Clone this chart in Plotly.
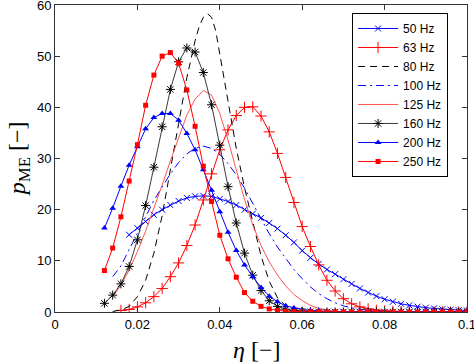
import plotly.graph_objects as go

# ---------------- data ----------------
STEP = 0.002

x_start_50 = 0.018
p_50 = [15.1, 16.4, 17.7, 19.0, 20.0, 20.9, 21.7, 22.3, 22.6, 22.7, 22.6, 22.1,
        21.6, 20.9, 20.0, 19.2, 18.4, 17.4, 16.3, 15.0, 13.6, 12.0, 10.6, 9.4,
        8.3, 7.4, 6.4, 5.5, 4.6, 3.8, 3.1, 2.5, 2.0, 1.6, 1.3, 1.05, 0.85, 0.7,
        0.55, 0.45, 0.35, 0.3]

x_start_63 = 0.016
p_63 = [0.3, 0.5, 1.0, 1.8, 3.0, 4.6, 6.9, 9.6, 13.0, 17.0, 21.9, 27.0, 31.7,
        35.6, 38.4, 40.0, 40.1, 38.3, 35.2, 31.0, 26.3, 21.4, 16.7, 12.8, 9.2,
        6.2, 4.1, 2.6, 1.6, 1.0, 0.6, 0.35, 0.2, 0.12, 0.07, 0.04, 0.02, 0.01,
        0, 0, 0, 0, 0]

eta_80 = [0.014, 0.016, 0.018, 0.020, 0.022, 0.024, 0.026, 0.028, 0.030, 0.032,
          0.034, 0.035, 0.036, 0.037, 0.038, 0.039, 0.040, 0.041, 0.042, 0.044,
          0.046, 0.048, 0.050, 0.052, 0.054, 0.056, 0.058, 0.060, 0.065, 0.070,
          0.100]
p_80 = [0.1, 0.4, 1.1, 3.0, 6.2, 11.5, 18.8, 27.5, 36.8, 45.8,
        53.0, 55.8, 57.6, 58.3, 57.6, 55.0, 50.5, 45.5, 40.8, 32.0,
        24.3, 17.5, 11.0, 6.0, 2.8, 1.2, 0.5, 0.2, 0.03, 0.0,
        0.0]

x_start_100 = 0.014
p_100 = [6.9, 9.0, 12.2, 15.5, 18.8, 21.8, 24.4, 27.0, 29.2, 30.9, 32.0, 32.4,
         32.0, 30.8, 29.0, 26.8, 24.2, 21.2, 18.2, 15.3, 12.7, 10.4, 8.3, 6.5,
         4.9, 3.6, 2.6, 1.8, 1.2, 0.8, 0.5, 0.3, 0.2, 0.1,
         0, 0, 0, 0, 0, 0, 0, 0, 0, 0]

x_start_125 = 0.014
p_125 = [3.0, 5.2, 8.2, 11.8, 15.8, 20.2, 24.8, 29.5, 34.2, 38.5, 41.6, 43.3,
         42.4, 38.8, 33.6, 27.8, 22.0, 17.0, 13.0, 9.8, 7.2, 5.1, 3.4, 2.2,
         1.3, 0.7, 0.35, 0.15, 0.05,
         0, 0, 0, 0, 0, 0, 0, 0, 0, 0, 0, 0, 0, 0, 0, 0]

x_start_160 = 0.012
p_160 = [1.7, 3.3, 5.5, 8.9, 14.1, 20.8, 28.3, 36.2, 43.5, 48.9, 51.6, 50.8,
         46.8, 40.5, 32.6, 24.5, 17.4, 11.5, 7.2, 4.2, 2.2, 1.1, 0.55, 0.25,
         0.12, 0.06, 0.03, 0.01,
         0, 0, 0, 0, 0, 0, 0, 0, 0, 0, 0, 0, 0, 0, 0, 0, 0]

x_start_200 = 0.012
p_200 = [16.4, 20.3, 24.6, 28.7, 32.3, 35.8, 38.0, 38.8, 38.8, 37.5, 34.9, 31.7,
         27.8, 23.8, 19.6, 15.6, 12.0, 9.2, 6.9, 4.8, 3.1, 2.0, 1.2, 0.8, 0.5,
         0.3, 0.2, 0.12, 0.08, 0.05, 0.03, 0.02, 0.01,
         0, 0, 0, 0, 0, 0, 0, 0, 0, 0, 0, 0]

x_start_250 = 0.012
p_250 = [8.1, 12.5, 18.6, 25.6, 32.7, 40.4, 46.3, 50.0, 50.7, 48.6, 43.4, 36.3,
         28.5, 21.6, 15.0, 10.4, 6.8, 3.8, 2.1, 1.1, 0.6, 0.3, 0.15, 0.08, 0.05,
         0.03, 0.02, 0.01, 0.01,
         0, 0, 0, 0, 0, 0, 0, 0, 0, 0, 0, 0, 0, 0, 0, 0]

x_ticks = [0, 0.02, 0.04, 0.06, 0.08, 0.1]
x_tick_labels = ["0", "0.02", "0.04", "0.06", "0.08", "0.1"]
y_ticks = [0, 10, 20, 30, 40, 50, 60]
y_tick_labels = ["0", "10", "20", "30", "40", "50", "60"]

x_title = "<i>η</i> [−]"
y_title = "<i>p</i><sub>ME</sub> [−]"


def grid(start, vals):
    return [round(start + STEP * i, 4) for i in range(len(vals))]


BLUE = "#0000ff"
RED = "#ff0000"
BLACK = "#000000"

fig = go.Figure()

fig.add_trace(go.Scatter(
    x=grid(x_start_50, p_50), y=p_50, name="50 Hz", mode="lines+markers",
    line=dict(color=BLUE, width=1),
    marker=dict(symbol="x-thin", size=6, color=BLUE, line=dict(width=1, color=BLUE))))

fig.add_trace(go.Scatter(
    x=grid(x_start_63, p_63), y=p_63, name="63 Hz", mode="lines+markers",
    line=dict(color=RED, width=1),
    marker=dict(symbol="cross-thin", size=8, color=RED, line=dict(width=1, color=RED))))

fig.add_trace(go.Scatter(
    x=eta_80, y=p_80, name="80 Hz", mode="lines",
    line=dict(color=BLACK, width=1, dash="7px,5px")))

fig.add_trace(go.Scatter(
    x=grid(x_start_100, p_100), y=p_100, name="100 Hz", mode="lines",
    line=dict(color=BLUE, width=1, dash="8px,4px,2px,4px")))

fig.add_trace(go.Scatter(
    x=grid(x_start_125, p_125), y=p_125, name="125 Hz", mode="lines",
    line=dict(color="#ff4040", width=0.9)))

fig.add_trace(go.Scatter(
    x=grid(x_start_160, p_160), y=p_160, name="160 Hz", mode="lines+markers",
    line=dict(color="#222222", width=0.9),
    marker=dict(symbol="asterisk-open", size=7.5, color=BLACK, line=dict(width=1, color=BLACK))))

fig.add_trace(go.Scatter(
    x=grid(x_start_200, p_200), y=p_200, name="200 Hz", mode="lines+markers",
    line=dict(color=BLUE, width=1),
    marker=dict(symbol="triangle-up", size=6, color=BLUE)))

fig.add_trace(go.Scatter(
    x=grid(x_start_250, p_250), y=p_250, name="250 Hz", mode="lines+markers",
    line=dict(color=RED, width=1),
    marker=dict(symbol="square", size=5, color=RED)))

axis_common = dict(
    showline=True, linecolor="#333333", linewidth=1, mirror="ticks",
    ticks="inside", ticklen=5, tickcolor="#333333", tickwidth=1,
    showgrid=False, zeroline=False, automargin=False,
    ticklabeloverflow="allow",
    tickfont=dict(family="Liberation Sans, Arial, sans-serif", size=13, color="#000000"),
)

TITLE_FONT = dict(family="Liberation Serif, Times New Roman, serif", size=24, color="#000")

fig.update_layout(
    width=474, height=362,
    margin=dict(l=55, r=7, t=5, b=50, autoexpand=False),
    paper_bgcolor="white", plot_bgcolor="white",
    xaxis=dict(range=[0, 0.1], tickvals=x_ticks, ticktext=x_tick_labels, **axis_common),
    yaxis=dict(range=[0, 60], tickvals=y_ticks, ticktext=y_tick_labels, **axis_common),
    legend=dict(x=0.721, y=0.974, xanchor="left", yanchor="top",
                bgcolor="white", bordercolor="#000000", borderwidth=1,
                font=dict(family="Liberation Sans, Arial, sans-serif", size=12, color="#000"),
                tracegroupgap=0, itemwidth=40, entrywidth=92, entrywidthmode="pixels"),
    showlegend=True,
    annotations=[
        dict(text=x_title, xref="paper", yref="paper", x=0.49, y=-0.125,
             xanchor="center", yanchor="middle", showarrow=False, font=TITLE_FONT),
        dict(text=y_title, xref="paper", yref="paper", x=-0.088, y=0.5,
             xanchor="center", yanchor="middle", textangle=-90, showarrow=False, font=TITLE_FONT),
    ],
)

fig.write_html("out.html", config={"displayModeBar": False},
               post_script="document.body.style.margin='0';")
